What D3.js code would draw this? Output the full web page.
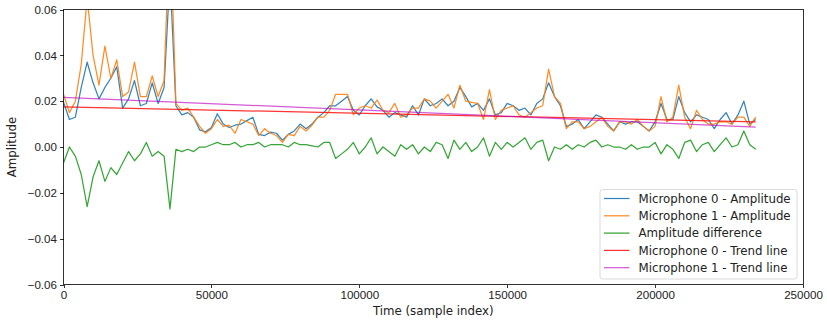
<!DOCTYPE html>
<html>
<head>
<meta charset="utf-8">
<script src="https://cdn.jsdelivr.net/npm/d3@7"></script>
<style>
  body { margin: 0; background: #fff; }
  svg { font-family: "DejaVu Sans", sans-serif; }
  .axis path, .axis line { stroke: #000; stroke-width: 0.8; shape-rendering: crispEdges; }
  .axis text { font-size: 11.6px; fill: #222; }
  .series { fill: none; stroke-width: 1.25; stroke-linejoin: round; }
</style>
</head>
<body>
<svg id="chart" width="827" height="320"></svg>
<script>
// samples are taken every sampleStep indices, starting at 0
const sampleStep = 2000;

const mic0Amplitude = [
  0.0195, 0.012, 0.013, 0.026, 0.037, 0.028, 0.021, 0.026, 0.030, 0.035,
  0.017, 0.021, 0.029, 0.018, 0.019, 0.028, 0.019, 0.026, 0.075, 0.018,
  0.014, 0.015, 0.013, 0.0075, 0.0066, 0.0085, 0.0145, 0.010, 0.0085, 0.0095,
  0.010, 0.0115, 0.013, 0.0055, 0.005, 0.0065, 0.006, 0.003, 0.0055, 0.007,
  0.010, 0.008, 0.010, 0.013, 0.015, 0.018, 0.018, 0.020, 0.022, 0.016,
  0.014, 0.018, 0.021, 0.0175, 0.016, 0.013, 0.015, 0.014, 0.013, 0.018,
  0.014, 0.021, 0.018, 0.019, 0.021, 0.018, 0.020, 0.026, 0.022, 0.0175,
  0.019, 0.016, 0.021, 0.014, 0.015, 0.019, 0.018, 0.016, 0.017, 0.014,
  0.019, 0.021, 0.028, 0.022, 0.018, 0.009, 0.010, 0.012, 0.008, 0.011,
  0.014, 0.013, 0.010, 0.007, 0.011, 0.010, 0.011, 0.011, 0.009, 0.007,
  0.011, 0.019, 0.012, 0.012, 0.022, 0.015, 0.011, 0.014, 0.013, 0.012,
  0.008, 0.012, 0.015, 0.010, 0.014, 0.020, 0.010, 0.012
];

const mic1Amplitude = [
  0.023, 0.015, 0.020, 0.036, 0.065, 0.040, 0.027, 0.044, 0.030, 0.038,
  0.022, 0.024, 0.037, 0.022, 0.022, 0.031, 0.022, 0.029, 0.100, 0.019,
  0.016, 0.017, 0.013, 0.009, 0.006, 0.008, 0.012, 0.009, 0.0095, 0.006,
  0.012, 0.011, 0.010, 0.005, 0.008, 0.006, 0.005, 0.002, 0.0055, 0.005,
  0.009, 0.007, 0.0095, 0.013, 0.013, 0.016, 0.023, 0.023, 0.023, 0.014,
  0.017, 0.018, 0.017, 0.0205, 0.016, 0.015, 0.019, 0.013, 0.014, 0.017,
  0.017, 0.021, 0.020, 0.017, 0.020, 0.023, 0.017, 0.027, 0.020, 0.0195,
  0.019, 0.012, 0.025, 0.012, 0.016, 0.017, 0.018, 0.014, 0.013, 0.015,
  0.017, 0.018, 0.034, 0.022, 0.019, 0.008, 0.011, 0.011, 0.008, 0.009,
  0.011, 0.013, 0.009, 0.007, 0.011, 0.011, 0.010, 0.012, 0.009, 0.007,
  0.009, 0.022, 0.011, 0.013, 0.027, 0.013, 0.008, 0.016, 0.012, 0.010,
  0.010, 0.011, 0.011, 0.010, 0.013, 0.013, 0.009, 0.013
];

const amplitudeDifference = [
  -0.007, 0.000, -0.004, -0.012, -0.026, -0.013, -0.006, -0.015, -0.009, -0.012,
  -0.007, -0.002, -0.006, -0.003, 0.002, -0.004, -0.002, -0.004, -0.027, -0.001,
  -0.002, -0.001, -0.002, 0.000, 0.000, 0.001, 0.002, 0.001, 0.001, 0.002,
  0.000, 0.001, 0.001, 0.002, 0.000, 0.001, 0.001, 0.001, 0.000, 0.002,
  0.001, 0.001, 0.0005, 0.000, 0.002, 0.002, -0.005, -0.003, -0.001, 0.002,
  -0.003, 0.000, 0.004, -0.003, 0.000, -0.002, -0.004, 0.001, -0.001, 0.001,
  -0.003, 0.000, -0.002, 0.002, 0.001, -0.005, 0.003, -0.001, 0.002, -0.002,
  0.000, 0.004, -0.004, 0.002, -0.001, 0.002, 0.000, 0.002, 0.004, -0.001,
  0.002, 0.003, -0.006, 0.000, -0.001, 0.001, -0.001, 0.001, 0.000, 0.002,
  0.003, 0.000, 0.001, 0.000, 0.000, -0.001, 0.001, -0.001, 0.000, 0.000,
  0.002, -0.003, 0.001, -0.001, -0.005, 0.002, 0.003, -0.002, 0.001, 0.002,
  -0.002, 0.001, 0.004, 0.000, 0.001, 0.007, 0.001, -0.001
];

// trend lines: [start, end] of the fitted line over the sample range
const trendTimes = [0, 234000];
const mic0Trend = [0.0175, 0.011];
const mic1Trend = [0.0217, 0.0087];

const xTicks = [0, 50000, 100000, 150000, 200000, 250000];
const yTicks = [-0.06, -0.04, -0.02, 0.00, 0.02, 0.04, 0.06];

const seriesNames = [
  'Microphone 0 - Amplitude',
  'Microphone 1 - Amplitude',
  'Amplitude difference',
  'Microphone 0 - Trend line',
  'Microphone 1 - Trend line'
];
const seriesColors = ['#1f77b4', '#ff7f0e', '#2ca02c', '#ff0000', '#bf00bf'];
const seriesAlpha = [0.9, 0.9, 0.95, 0.8, 0.65];

const margin = { top: 9.5, right: 24, bottom: 35.5, left: 63.5 };
const W = 827, H = 320;
const width = W - margin.left - margin.right;
const height = H - margin.top - margin.bottom;

const svg = d3.select('#chart');

const x = d3.scaleLinear().domain([0, 250000]).range([0, width]);
const y = d3.scaleLinear().domain([-0.06, 0.06]).range([height, 0]);

const g = svg.append('g').attr('transform', `translate(${margin.left},${margin.top})`);

g.append('clipPath').attr('id', 'plot-clip')
  .append('rect').attr('width', width).attr('height', height);

const toPoints = vals => vals.map((v, i) => [i * sampleStep, v]);
const line = d3.line().x(d => x(d[0])).y(d => y(d[1]));

const seriesData = [
  toPoints(mic0Amplitude),
  toPoints(mic1Amplitude),
  toPoints(amplitudeDifference),
  trendTimes.map((t, i) => [t, mic0Trend[i]]),
  trendTimes.map((t, i) => [t, mic1Trend[i]])
];

const lines = g.append('g').attr('clip-path', 'url(#plot-clip)');
seriesData.forEach((d, i) => {
  lines.append('path')
    .attr('class', 'series')
    .attr('d', line(d))
    .attr('stroke', seriesColors[i])
    .attr('stroke-opacity', seriesAlpha[i]);
});

// axes
const fmtY = d => d3.format('.2f')(d).replace('-', '\u2212');

g.append('g')
  .attr('class', 'axis x')
  .attr('transform', `translate(0,${height})`)
  .call(d3.axisBottom(x).tickValues(xTicks).tickSize(3.5).tickPadding(3).tickFormat(d3.format('d')))
  .call(a => a.select('.domain').remove());

g.append('g')
  .attr('class', 'axis y')
  .call(d3.axisLeft(y).tickValues(yTicks).tickSize(3.5).tickPadding(3).tickFormat(fmtY))
  .call(a => a.select('.domain').remove());

// frame
g.append('rect')
  .attr('width', width).attr('height', height)
  .attr('fill', 'none').attr('stroke', '#000').attr('stroke-width', 0.8)
  .attr('shape-rendering', 'crispEdges');

// axis labels
svg.append('text')
  .attr('x', margin.left + width / 2)
  .attr('y', H - 5)
  .attr('text-anchor', 'middle')
  .attr('font-size', '11.8px')
  .attr('fill', '#222')
  .text('Time (sample index)');

svg.append('text')
  .attr('transform', `translate(16,${margin.top + height / 2}) rotate(-90)`)
  .attr('text-anchor', 'middle')
  .attr('font-size', '11.8px')
  .attr('fill', '#222')
  .text('Amplitude');

// legend
const legend = svg.append('g').attr('transform', 'translate(600,189.5)');
legend.append('rect')
  .attr('width', 197).attr('height', 89.5)
  .attr('rx', 2.5)
  .attr('fill', '#fff').attr('fill-opacity', 0.8)
  .attr('stroke', '#d0d0d0').attr('stroke-width', 0.8);

seriesNames.forEach((name, i) => {
  const row = legend.append('g').attr('transform', `translate(0,${9 + i * 17.3})`);
  row.append('line')
    .attr('x1', 4).attr('x2', 29.5)
    .attr('stroke', seriesColors[i])
    .attr('stroke-opacity', seriesAlpha[i])
    .attr('stroke-width', 1.25);
  row.append('text')
    .attr('x', 38.5)
    .attr('dy', '0.35em')
    .attr('font-size', '11.8px')
    .attr('fill', '#222')
    .text(name);
});
</script>
</body>
</html>
